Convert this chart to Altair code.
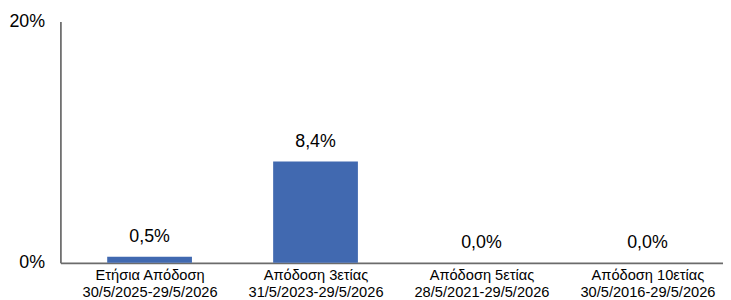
import altair as alt
import pandas as pd

categories = [
    "Ετήσια Απόδοση\n30/5/2025-29/5/2026",
    "Απόδοση 3ετίας\n31/5/2023-29/5/2026",
    "Απόδοση 5ετίας\n28/5/2021-29/5/2026",
    "Απόδοση 10ετίας\n30/5/2016-29/5/2026",
]
values = [0.005, 0.084, 0.0, 0.0]
labels = ["0,5%", "8,4%", "0,0%", "0,0%"]

df = pd.DataFrame(
    {"idx": list(range(len(categories))), "cat": categories, "val": values, "lab": labels}
)

FONT = "Liberation Sans"
AXIS_COLOR = "#6b6b6b"

cat_array = "[" + ",".join("'" + c.replace("\n", "\\n") + "'" for c in categories) + "]"
label_expr = "split(" + cat_array + "[datum.value], '\\n')"

x = alt.X(
    "idx:Q",
    title=None,
    scale=alt.Scale(domain=[-0.5075, 3.4256], nice=False, zero=False),
    axis=alt.Axis(
        values=list(range(len(categories))),
        labelAngle=0,
        labelExpr=label_expr,
        labelFontSize=14.8,
        labelLineHeight=17,
        labelPadding=5,
        labelColor="#000000",
        labelFont=FONT,
        ticks=False,
        grid=False,
        domainColor=AXIS_COLOR,
        domainWidth=1.75,
        labelOverlap=False,
        labelFlush=False,
        labelBound=False,
        labelLimit=300,
    ),
)
y = alt.Y(
    "val:Q",
    title=None,
    scale=alt.Scale(domain=[0, 0.2], nice=False),
    axis=alt.Axis(
        values=[0, 0.2],
        format=".0%",
        grid=False,
        ticks=False,
        labelFontSize=18,
        labelPadding=16,
        labelColor="#000000",
        labelFont=FONT,
        domainColor=AXIS_COLOR,
        domainWidth=1.75,
    ),
)

bars = alt.Chart(df).mark_bar(color="#4169B0", size=85.7).encode(x=x, y=y)
text = alt.Chart(df).mark_text(
    baseline="alphabetic", dy=-15, fontSize=18, font=FONT, color="#000000"
).encode(x=x, y=y, text="lab:N")

chart = (
    alt.layer(bars, text)
    .properties(
        width=670,
        height=244,
        autosize=alt.AutoSizeParams(type="none"),
        padding={"left": 53, "top": 12, "right": 0, "bottom": 40},
    )
    .configure_view(stroke=None)
)

chart.save("out.html", embed_options={"renderer": "svg", "actions": False})
